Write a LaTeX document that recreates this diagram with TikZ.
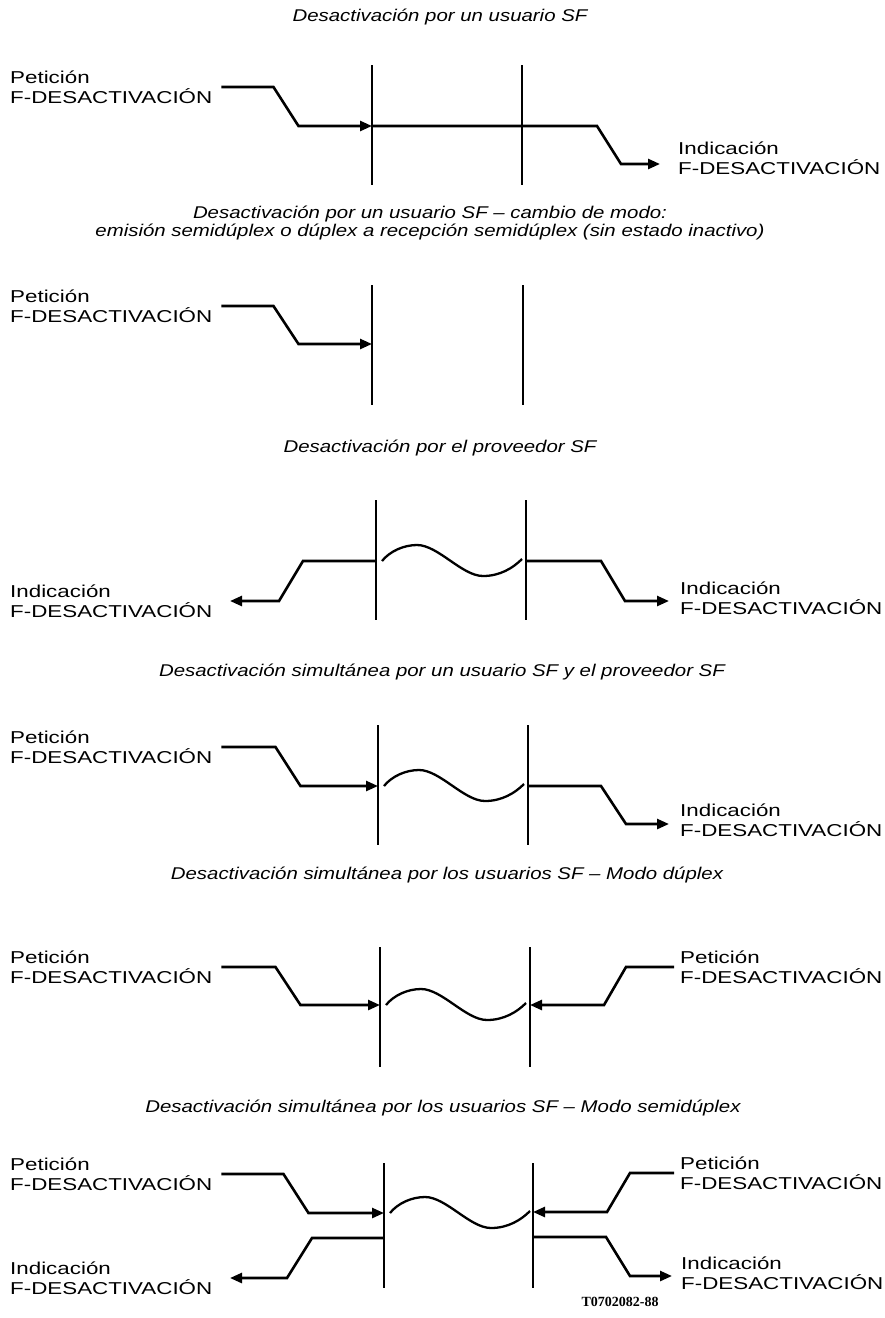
\documentclass[tikz,border=0pt]{standalone}
\usepackage{fontspec}
\setmainfont{Liberation Sans}
\newfontfamily\lblfont[FakeStretch=1.3]{Liberation Sans}
\newfontfamily\ttlfont[FakeStretch=1.2]{Liberation Sans}
\newfontfamily\codefont{Liberation Serif}
\usetikzlibrary{arrows.meta,positioning}

\begin{document}
\begin{tikzpicture}
  [
  x=1pt, y=-1pt,
  >={Triangle[length=12pt,width=10pt]},
  sig/.style={line width=2.6pt},
  bar/.style={line width=1.6pt},
  wavy/.style={line width=2.3pt},
  lbl/.style={font=\lblfont\fontsize{17.2}{20}\selectfont, align=left, inner sep=0pt, anchor=west},
  ttl/.style={font=\ttlfont\itshape\fontsize{17}{16}\selectfont, align=center, inner sep=0pt},
  wave/.pic={\draw[wavy] (6,0) .. controls (14,-10) and (28,-16) .. (41,-16)
    .. controls (62,-16) and (86,15) .. (107,15) .. controls (124,15) and (137,7) .. (146,-2);},
  ]

  \useasboundingbox (0,0) rectangle (885,1318);

  % the two interfaces of every case
  \foreach \n/\xl/\xr/\yt/\h in {1/372/522/65/120, 2/372/523/285/120, 3/376/526/500/120,
    4/378/528/725/120, 5/380/530/947/120, 6/384/533/1163/125} {
    \coordinate (l\n) at (\xl,\yt);
    \coordinate (r\n) at (\xr,\yt);
    \draw[bar] (l\n) -- ++(0,\h);
    \draw[bar] (r\n) -- ++(0,\h);
  }

  % usuario
  \node[ttl] (t1) at (440,17) {Desactivación por un usuario SF};
  \node[lbl] (req1) at (10,87) {Petición\\F-DESACTIVACIÓN};
  \node[lbl] (ind1) at (678,158) {Indicación\\F-DESACTIVACIÓN};
  \coordinate (in1) at (372,126);
  \coordinate (out1) at (660,164);
  \draw[sig,->] ([xshift=9pt]req1.east) -- ++(52,0) -- ++(25,39) -- (in1);
  \draw[sig,->] (in1) -- ++(225,0) -- ++(24,38) -- (out1);

  % cambio de modo
  \node[ttl] (t2) at (430,223) {Desactivación por un usuario SF \textendash\ cambio de modo:\\
    emisión semidúplex o dúplex a recepción semidúplex (sin estado inactivo)};
  \node[lbl] (req2) at (10,306) {Petición\\F-DESACTIVACIÓN};
  \coordinate (in2) at (372,344);
  \draw[sig,->] ([xshift=9pt]req2.east) -- ++(52,0) -- ++(25,38) -- (in2);

  % proveedor
  \node[ttl] (t3) at (440,448) {Desactivación por el proveedor SF};
  \node[lbl] (ind3a) at (10,601) {Indicación\\F-DESACTIVACIÓN};
  \node[lbl] (ind3b) at (680,598) {Indicación\\F-DESACTIVACIÓN};
  \coordinate (lo3) at (376,561);
  \coordinate (ro3) at (526,561);
  \coordinate (out3a) at (230,601);
  \coordinate (out3b) at (669,601);
  \draw[sig,->] (lo3) -- ++(-73,0) -- ++(-24,40) -- (out3a);
  \draw[sig,->] (ro3) -- ++(75,0) -- ++(24,40) -- (out3b);
  \pic at (lo3) {wave};

  % usuario y proveedor
  \node[ttl] (t4) at (442,672) {Desactivación simultánea por un usuario SF y el proveedor SF};
  \node[lbl] (req4) at (10,747) {Petición\\F-DESACTIVACIÓN};
  \node[lbl] (ind4) at (680,820) {Indicación\\F-DESACTIVACIÓN};
  \coordinate (in4) at (378,786);
  \coordinate (ro4) at (528,786);
  \coordinate (out4) at (669,824);
  \draw[sig,->] ([xshift=9pt]req4.east) -- ++(54,0) -- ++(25,39) -- (in4);
  \draw[sig,->] (ro4) -- ++(73,0) -- ++(25,38) -- (out4);
  \pic at (in4) {wave};

  % duplex
  \node[ttl] (t5) at (447,875) {Desactivación simultánea por los usuarios SF \textendash\ Modo dúplex};
  \node[lbl] (req5a) at (10,967) {Petición\\F-DESACTIVACIÓN};
  \node[lbl] (req5b) at (680,967) {Petición\\F-DESACTIVACIÓN};
  \coordinate (in5a) at (380,1005);
  \coordinate (in5b) at (530,1005);
  \draw[sig,->] ([xshift=9pt]req5a.east) -- ++(54,0) -- ++(25,38) -- (in5a);
  \draw[sig,->] ([xshift=-6pt]req5b.west) -- ++(-48,0) -- ++(-22,38) -- (in5b);
  \pic at (in5a) {wave};

  % semiduplex
  \node[ttl] (t6) at (443,1108) {Desactivación simultánea por los usuarios SF \textendash\ Modo semidúplex};
  \node[lbl] (req6a) at (10,1174) {Petición\\F-DESACTIVACIÓN};
  \node[lbl] (ind6a) at (10,1278) {Indicación\\F-DESACTIVACIÓN};
  \node[lbl] (req6b) at (680,1173) {Petición\\F-DESACTIVACIÓN};
  \node[lbl] (ind6b) at (681,1273) {Indicación\\F-DESACTIVACIÓN};
  \coordinate (in6a) at (384,1213);
  \coordinate (in6b) at (533,1212);
  \coordinate (lo6) at (384,1238);
  \coordinate (ro6) at (533,1237);
  \coordinate (out6a) at (230,1278);
  \coordinate (out6b) at (672,1276);
  \draw[sig,->] ([xshift=9pt]req6a.east) -- ++(62,0) -- ++(25,39) -- (in6a);
  \draw[sig,->] ([xshift=-6pt]req6b.west) -- ++(-44,0) -- ++(-23,39) -- (in6b);
  \draw[sig,->] (lo6) -- ++(-72,0) -- ++(-25,40) -- (out6a);
  \draw[sig,->] (ro6) -- ++(73,0) -- ++(24,39) -- (out6b);
  \pic at (in6a) {wave};

  \node[font=\codefont\bfseries\fontsize{14}{14}\selectfont] (code) at (620,1302) {T0702082-88};

\end{tikzpicture}
\end{document}
